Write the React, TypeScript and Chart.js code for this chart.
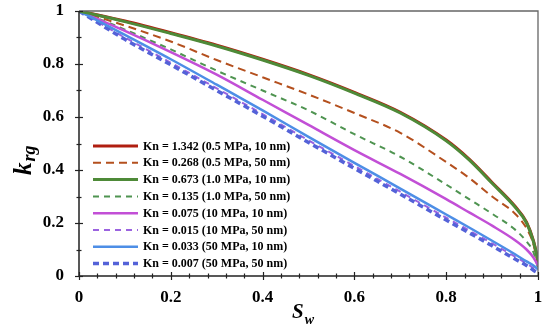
import React, { useEffect, useRef } from "react";
import { Chart, registerables } from "chart.js";

Chart.register(...registerables);

const SW = [0, 0.1, 0.2, 0.3, 0.4, 0.5, 0.6, 0.7, 0.8, 0.85, 0.9, 0.95, 0.975, 0.99, 1];

const KN_1342 = [1, 0.962, 0.918, 0.871, 0.818, 0.76, 0.693, 0.618, 0.513, 0.441, 0.353, 0.263, 0.203, 0.133, 0.06];
const KN_0268 = [1, 0.945, 0.885, 0.815, 0.75, 0.685, 0.615, 0.54, 0.43, 0.37, 0.3, 0.235, 0.18, 0.12, 0.04];
const KN_0673 = [1, 0.96, 0.915, 0.868, 0.815, 0.757, 0.69, 0.615, 0.51, 0.438, 0.35, 0.26, 0.2, 0.13, 0.06];
const KN_0135 = [1, 0.93, 0.855, 0.775, 0.7, 0.625, 0.535, 0.45, 0.345, 0.29, 0.235, 0.175, 0.13, 0.09, 0.03];
const KN_0075 = [1, 0.925, 0.845, 0.76, 0.665, 0.57, 0.475, 0.385, 0.29, 0.24, 0.19, 0.135, 0.1, 0.07, 0.04];
const KN_0015 = [1, 0.9, 0.805, 0.708, 0.611, 0.512, 0.415, 0.318, 0.22, 0.172, 0.123, 0.073, 0.048, 0.03, 0.02];
const KN_0033 = [1, 0.91, 0.818, 0.722, 0.625, 0.525, 0.427, 0.33, 0.232, 0.183, 0.133, 0.082, 0.055, 0.04, 0.025];
const KN_0007 = [1, 0.893, 0.797, 0.7, 0.603, 0.504, 0.406, 0.309, 0.211, 0.163, 0.114, 0.064, 0.04, 0.022, 0.012];

const LABELS = [
  "Kn = 1.342 (0.5 MPa, 10 nm)",
  "Kn = 0.268 (0.5 MPa, 50 nm)",
  "Kn = 0.673 (1.0 MPa, 10 nm)",
  "Kn = 0.135 (1.0 MPa, 50 nm)",
  "Kn = 0.075 (10 MPa, 10 nm)",
  "Kn = 0.015 (10 MPa, 50 nm)",
  "Kn = 0.033 (50 MPa, 10 nm)",
  "Kn = 0.007 (50 MPa, 50 nm)",
];

const X_TITLE = "S";
const X_SUB = "w";
const Y_TITLE = "k";
const Y_SUB = "rg";

const SERIF = "'Liberation Serif', 'Times New Roman', serif";

const pts = (arr: number[]) => SW.map((s, i) => ({ x: s, y: arr[i] }));

const overlay = {
  id: "overlay",
  afterDraw(chart: any) {
    const ctx = chart.ctx;
    const ca = chart.chartArea;
    const xs = chart.scales.x;
    const ys = chart.scales.y;
    ctx.save();
    ctx.strokeStyle = "#666";
    ctx.lineWidth = 1.3;
    ctx.beginPath();
    ctx.moveTo(ca.left, ca.top);
    ctx.lineTo(ca.right, ca.top);
    ctx.lineTo(ca.right, ca.bottom);
    ctx.stroke();
    ctx.strokeStyle = "#222";
    ctx.lineWidth = 1.5;
    ctx.beginPath();
    ctx.moveTo(ca.left, ca.top);
    ctx.lineTo(ca.left, ca.bottom);
    ctx.lineTo(ca.right, ca.bottom);
    ctx.stroke();
    ctx.lineWidth = 1.2;
    for (let i = 0; i <= 25; i++) {
      const v = i * 0.04;
      const px = Math.round(xs.getPixelForValue(v)) + 0.5;
      const major = i % 5 === 0;
      const l = major ? 4 : 2.5;
      ctx.beginPath();
      ctx.moveTo(px, ca.bottom - l);
      ctx.lineTo(px, ca.bottom + l);
      ctx.stroke();
    }
    for (let i = 0; i <= 10; i++) {
      const v = i * 0.1;
      const py = Math.round(ys.getPixelForValue(v)) + 0.5;
      const major = i % 2 === 0;
      const l = major ? 4 : 2.5;
      ctx.beginPath();
      ctx.moveTo(ca.left - l, py);
      ctx.lineTo(ca.left + l, py);
      ctx.stroke();
    }
    ctx.fillStyle = "#000";
    ctx.textBaseline = "alphabetic";
    ctx.textAlign = "left";
    ctx.font = `italic bold 21px ${SERIF}`;
    const sx = 292;
    ctx.fillText(X_TITLE, sx, 318);
    const sw = ctx.measureText(X_TITLE).width;
    ctx.font = `italic bold 14px ${SERIF}`;
    ctx.fillText(X_SUB, sx + sw + 1, 324);

    ctx.save();
    ctx.translate(31, 175);
    ctx.rotate(-Math.PI / 2);
    ctx.font = `italic bold 25px ${SERIF}`;
    ctx.fillText(Y_TITLE, 0, 0);
    const kw = ctx.measureText(Y_TITLE).width;
    ctx.font = `italic bold 18px ${SERIF}`;
    ctx.fillText(Y_SUB, kw + 1, 4);
    ctx.restore();

    const ds = chart.data.datasets;
    ctx.font = `bold 12px ${SERIF}`;
    ctx.textBaseline = "middle";
    for (let i = 0; i < ds.length; i++) {
      const d = ds[i];
      const y = 146 + i * 16.8;
      ctx.strokeStyle = d.borderColor;
      ctx.lineWidth = d.borderWidth;
      ctx.setLineDash(d.borderDash || []);
      ctx.beginPath();
      ctx.moveTo(93, y);
      ctx.lineTo(138, y);
      ctx.stroke();
      ctx.setLineDash([]);
      ctx.fillStyle = "#000";
      ctx.fillText(d.label, 143, y + 0.5);
    }
    ctx.restore();
  },
};

export default function App() {
  const ref = useRef<HTMLCanvasElement | null>(null);
  useEffect(() => {
    if (!ref.current) return;
    const mk = (label: string, arr: number[], color: string, width: number, dash: number[], order: number) => ({
      label,
      data: pts(arr),
      borderColor: color,
      backgroundColor: color,
      borderWidth: width,
      borderDash: dash,
      order,
      showLine: true,
      pointRadius: 0,
      cubicInterpolationMode: "monotone" as const,
      fill: false,
    });
    const chart = new Chart(ref.current, {
      type: "scatter",
      data: {
        datasets: [
          mk(LABELS[0], KN_1342, "#B01E10", 3, [], 8),
          mk(LABELS[1], KN_0268, "#B4501E", 2, [8, 5], 5),
          mk(LABELS[2], KN_0673, "#4E8A38", 3, [], 1),
          mk(LABELS[3], KN_0135, "#4F9451", 2, [6, 5], 4),
          mk(LABELS[4], KN_0075, "#C24FD6", 2.5, [], 3),
          mk(LABELS[5], KN_0015, "#9B63E0", 2, [6, 5], 7),
          mk(LABELS[6], KN_0033, "#4D8EE6", 2.5, [], 2),
          mk(LABELS[7], KN_0007, "#5462D8", 3.5, [6, 4], 6),
        ],
      },
      options: {
        responsive: false,
        maintainAspectRatio: false,
        animation: false,
        devicePixelRatio: 1,
        layout: { padding: { top: 11, right: 12, left: 0, bottom: 0 } },
        plugins: { legend: { display: false }, tooltip: { enabled: false } },
        scales: {
          x: {
            type: "linear",
            min: 0,
            max: 1,
            grid: { display: false, drawTicks: false },
            border: { display: false },
            ticks: {
              stepSize: 0.2,
              maxRotation: 0,
              padding: 11,
              color: "#000",
              font: { family: SERIF, size: 17, weight: "bold" },
              callback: (v: any) => String(Math.round(Number(v) * 10) / 10),
            },
            afterFit: (s: any) => {
              s.height = 52;
              s.paddingLeft = 0;
              s.paddingRight = 0;
            },
          },
          y: {
            type: "linear",
            min: 0,
            max: 1,
            grid: { display: false, drawTicks: false },
            border: { display: false },
            ticks: {
              stepSize: 0.2,
              padding: 15,
              color: "#000",
              font: { family: SERIF, size: 17, weight: "bold" },
              callback: (v: any) => String(Math.round(Number(v) * 10) / 10),
            },
            afterFit: (s: any) => {
              s.width = 79;
              s.paddingTop = 0;
              s.paddingBottom = 0;
            },
          },
        },
      },
      plugins: [overlay],
    });
    return () => chart.destroy();
  }, []);
  return (
    <div style={{ position: "absolute", left: 0, top: 0, width: 550, height: 328, background: "#fff" }}>
      <canvas ref={ref} width={550} height={328} style={{ display: "block", width: 550, height: 328 }} />
    </div>
  );
}
